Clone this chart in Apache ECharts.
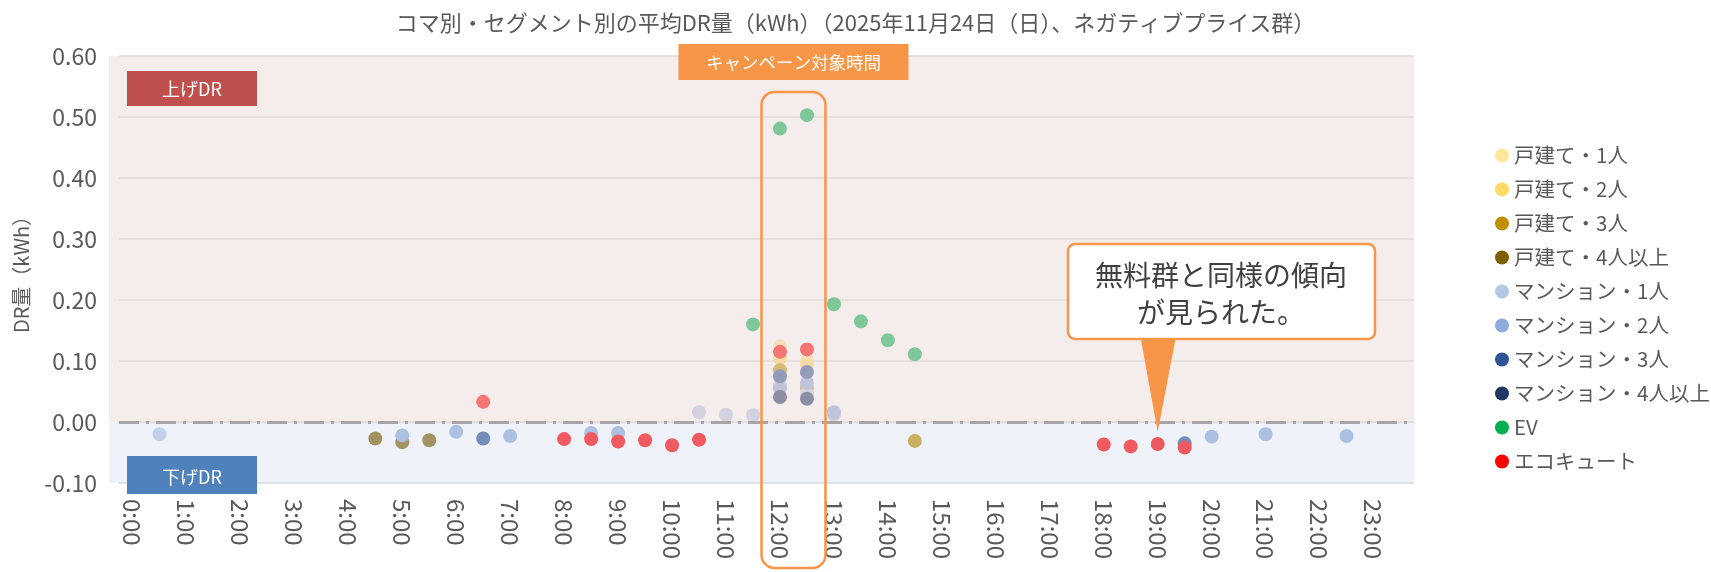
<!DOCTYPE html>
<html>
<head>
<meta charset="utf-8">
<style>
  html, body { margin: 0; padding: 0; background: #ffffff; }
  #chart { width: 1711px; height: 572px; }
</style>
<script src="https://cdn.jsdelivr.net/npm/echarts@6/dist/echarts.min.js"></script>
</head>
<body>
<div id="chart"></div>
<script>
// コマ（30分刻み）
var times = ['0:00', '0:30', '1:00', '1:30', '2:00', '2:30', '3:00', '3:30', '4:00', '4:30', '5:00', '5:30',
  '6:00', '6:30', '7:00', '7:30', '8:00', '8:30', '9:00', '9:30', '10:00', '10:30', '11:00', '11:30',
  '12:00', '12:30', '13:00', '13:30', '14:00', '14:30', '15:00', '15:30', '16:00', '16:30', '17:00', '17:30',
  '18:00', '18:30', '19:00', '19:30', '20:00', '20:30', '21:00', '21:30', '22:00', '22:30', '23:00', '23:30']

// セグメント別の平均DR量（kWh）
var house1 = [['12:00', 0.124], ['12:30', 0.100]]
var house2 = [['12:00', 0.104], ['12:30', 0.093]]
var house3 = [['12:00', 0.085], ['12:30', 0.056], ['14:30', -0.031]]
var house4 = [['4:30', -0.027], ['5:00', -0.033], ['5:30', -0.030]]
var mansion1 = [['0:30', -0.020], ['10:30', 0.016], ['11:00', 0.012], ['11:30', 0.011], ['12:00', 0.060], ['12:30', 0.047], ['13:00', 0.012]]
var mansion2 = [['5:00', -0.022], ['6:00', -0.016], ['7:00', -0.023], ['8:30', -0.018], ['9:00', -0.018], ['12:00', 0.055], ['12:30', 0.064], ['13:00', 0.016], ['20:00', -0.024], ['21:00', -0.020], ['22:30', -0.023]]
var mansion3 = [['6:30', -0.027], ['12:00', 0.075], ['12:30', 0.082], ['19:30', -0.035]]
var mansion4 = [['12:00', 0.041], ['12:30', 0.038]]
var ev = [['11:30', 0.160], ['12:00', 0.481], ['12:30', 0.503], ['13:00', 0.193], ['13:30', 0.165], ['14:00', 0.134], ['14:30', 0.111]]
var ecocute = [['6:30', 0.033], ['8:00', -0.028], ['8:30', -0.028], ['9:00', -0.032], ['9:30', -0.030], ['10:00', -0.038], ['10:30', -0.029],
  ['12:00', 0.115], ['12:30', 0.119], ['18:00', -0.037], ['18:30', -0.040], ['19:00', -0.036], ['19:30', -0.042]]

var segNames = ['戸建て・1人', '戸建て・2人', '戸建て・3人', '戸建て・4人以上', 'マンション・1人', 'マンション・2人', 'マンション・3人', 'マンション・4人以上', 'EV', 'エコキュート']
var segData = [house1, house2, house3, house4, mansion1, mansion2, mansion3, mansion4, ev, ecocute]
var segColors = ['#FFE699', '#FFD966', '#BF9000', '#7F6000', '#B4C7E7', '#8FAADC', '#2F5597', '#203864', '#00B050', '#FF0000']

// 縦軸
var yMin = -0.1
var yMax = 0.6
var yStep = 0.1

var FONT = '"Noto Sans CJK JP", "Noto Sans", sans-serif'
var TEXT_GRAY = '#595959'
var ORANGE = '#F79646'
var UP_BG = 'rgba(236,220,220,0.53)'
var DOWN_BG = 'rgba(215,225,240,0.40)'

var chart = echarts.init(document.getElementById('chart'), null, { renderer: 'canvas' })

function buildSeries() {
  var out = []
  segNames.forEach(function (name, i) {
    out.push({
      name: name,
      type: 'scatter',
      symbolSize: 14,
      itemStyle: { color: segColors[i], opacity: 1 },
      data: segData[i],
      z: 2
    })
  })
  // 上げ／下げの背景（点の上に半透明で重ねる）と0ライン
  out.push({
    name: '背景',
    type: 'scatter',
    data: [],
    silent: true,
    markArea: {
      silent: true,
      z: 3,
      data: [
        [{ yAxis: 0, itemStyle: { color: UP_BG } }, { yAxis: yMax }],
        [{ yAxis: yMin, itemStyle: { color: DOWN_BG } }, { yAxis: 0 }]
      ]
    },
    markLine: {
      silent: true,
      z: 5,
      symbol: 'none',
      label: { show: false },
      lineStyle: { color: '#A9A3A6', width: 3, type: [20, 7, 3, 7] },
      data: [{ yAxis: 0 }]
    }
  })
  return out
}

chart.setOption({
  animation: false,
  backgroundColor: '#ffffff',
  title: {
    text: 'コマ別・セグメント別の平均DR量（kWh）（2025年11月24日（日）、ネガティブプライス群）',
    left: 'center',
    top: 7,
    textStyle: { fontFamily: FONT, fontSize: 22, fontWeight: 'normal', color: TEXT_GRAY }
  },
  legend: {
    data: segNames,
    orient: 'vertical',
    left: 1490,
    top: 140,
    icon: 'circle',
    itemWidth: 14,
    itemHeight: 14,
    itemGap: 13,
    textStyle: { fontFamily: FONT, fontSize: 20.5, color: TEXT_GRAY, lineHeight: 21 }
  },
  grid: { left: 119, right: 297, top: 56, bottom: 89 },
  xAxis: {
    type: 'category',
    data: times,
    boundaryGap: true,
    axisTick: { show: false },
    axisLine: { show: true, lineStyle: { color: '#D9D9D9', width: 1 } },
    axisLabel: {
      interval: 1,
      rotate: -90,
      margin: 16,
      fontFamily: FONT,
      fontSize: 24,
      color: TEXT_GRAY
    },
    splitLine: { show: false }
  },
  yAxis: {
    type: 'value',
    min: yMin,
    max: yMax,
    interval: yStep,
    name: 'DR量（kWh）',
    nameLocation: 'middle',
    nameRotate: 90,
    nameGap: 88,
    nameTextStyle: { fontFamily: FONT, fontSize: 20, color: TEXT_GRAY },
    axisLine: { show: false },
    axisTick: { show: false },
    axisLabel: {
      margin: 22,
      fontFamily: FONT,
      fontSize: 23,
      color: TEXT_GRAY,
      formatter: function (v) { return v.toFixed(2) }
    },
    splitLine: { show: true, lineStyle: { color: '#D9D9D9', width: 1.5 } }
  },
  series: buildSeries()
})

// 注記（キャンペーン枠・上げ下げラベル・吹き出し）
function addNotes() {
  var p12 = chart.convertToPixel({ gridIndex: 0 }, ['12:00', 0])
  var p1230 = chart.convertToPixel({ gridIndex: 0 }, ['12:30', 0])
  var pTop = chart.convertToPixel({ gridIndex: 0 }, ['0:00', yMax])
  var pBottom = chart.convertToPixel({ gridIndex: 0 }, ['0:00', yMin])
  var band = p1230[0] - p12[0]
  var campL = p12[0] - band / 2 - 5
  var campR = p1230[0] + band / 2 + 5
  var campC = (campL + campR) / 2
  var tip = chart.convertToPixel({ gridIndex: 0 }, ['19:00', 0])
  var gridLeft = 119
  var stripL = 109

  chart.setOption({
    graphic: [
      // プロット背景の左端（グリッドより少し外側まで塗る）
      {
        type: 'rect', z: 1, silent: true,
        shape: { x: stripL, y: pTop[1], width: gridLeft - stripL, height: p12[1] - pTop[1] },
        style: { fill: UP_BG }
      },
      {
        type: 'rect', z: 1, silent: true,
        shape: { x: stripL, y: p12[1], width: gridLeft - stripL, height: pBottom[1] - p12[1] },
        style: { fill: DOWN_BG }
      },
      {
        type: 'rect', z: 100, silent: true,
        shape: { x: campL, y: 92, width: campR - campL, height: 476, r: 13 },
        style: { fill: 'none', stroke: ORANGE, lineWidth: 2.5 }
      },
      {
        type: 'rect', z: 100, silent: true,
        shape: { x: campC - 115, y: 44, width: 230, height: 36 },
        style: { fill: ORANGE }
      },
      {
        type: 'text', z: 101, silent: true,
        style: { text: 'キャンペーン対象時間', x: campC, y: 62, align: 'center', verticalAlign: 'middle', fill: '#ffffff', fontSize: 17.5, fontFamily: FONT }
      },
      {
        type: 'rect', z: 100, silent: true,
        shape: { x: 127, y: 71, width: 130, height: 35 },
        style: { fill: '#C0504D' }
      },
      {
        type: 'text', z: 101, silent: true,
        style: { text: '上げDR', x: 192, y: 89, align: 'center', verticalAlign: 'middle', fill: '#ffffff', fontSize: 18, fontFamily: FONT }
      },
      {
        type: 'rect', z: 100, silent: true,
        shape: { x: 127, y: 456, width: 130, height: 38 },
        style: { fill: '#4F81BD' }
      },
      {
        type: 'text', z: 101, silent: true,
        style: { text: '下げDR', x: 192, y: 477, align: 'center', verticalAlign: 'middle', fill: '#ffffff', fontSize: 18, fontFamily: FONT }
      },
      {
        type: 'polygon', z: 100, silent: true,
        shape: { points: [[tip[0] - 17, 338], [tip[0] + 18, 338], [tip[0], tip[1] + 10]] },
        style: { fill: ORANGE }
      },
      {
        type: 'rect', z: 101, silent: true,
        shape: { x: 1068, y: 244, width: 307, height: 95, r: 7 },
        style: { fill: '#ffffff', stroke: ORANGE, lineWidth: 2.5 }
      },
      {
        type: 'text', z: 102, silent: true,
        style: { text: '無料群と同様の傾向\nが見られた。', x: 1221, y: 294, align: 'center', verticalAlign: 'middle', fill: '#404040', fontSize: 28, lineHeight: 37, fontFamily: FONT }
      }
    ]
  })
}
addNotes()
</script>
</body>
</html>
